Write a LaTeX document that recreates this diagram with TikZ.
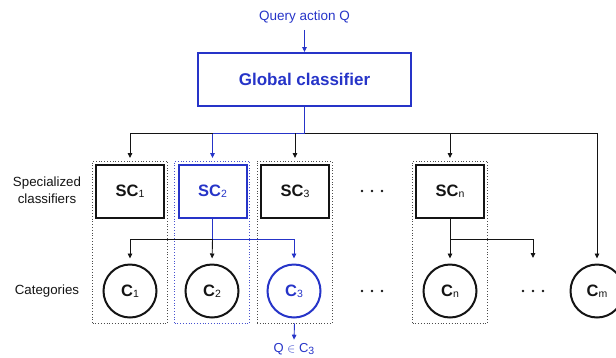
\documentclass[tikz,border=0pt]{standalone}
\usepackage{fontspec}
\setmainfont{Liberation Sans}
\usetikzlibrary{arrows.meta}
\definecolor{qblue}{RGB}{38,52,200}
\definecolor{ink}{RGB}{20,20,20}
% small upright index set slightly below the baseline
\newcommand\subidx[1]{{\fontsize{10.5}{10.5}\selectfont\mdseries\raisebox{-1.2pt}{#1}}}
\begin{document}
\begin{tikzpicture}[x=1pt,y=-1pt,
  classbox/.style={draw=ink, line width=2pt, minimum width=68pt, minimum height=53pt,
    inner sep=0pt, font=\fontsize{16.5}{16.5}\selectfont\bfseries, text=ink},
  catnode/.style={draw=ink, circle, line width=2pt, minimum size=53pt, inner sep=0pt,
    font=\fontsize{16.5}{16.5}\selectfont\bfseries, text=ink},
  frame/.style={draw=black!70, dotted, line width=0.8pt, minimum width=75pt,
    minimum height=162pt, inner sep=0pt},
  link/.style={line width=0.9pt, draw=ink, -{Triangle[length=5pt,width=4.5pt]}},
  plain/.style={line width=0.9pt, draw=ink},
  rowlabel/.style={font=\fontsize{13.3}{16.5}\selectfont, align=center, text=ink},
  dotc/.style={circle, fill=ink, minimum size=2.8pt, inner sep=0pt},
]
\useasboundingbox (0,0) rectangle (616,357);

% dotted frames pairing each specialized classifier with its category
\node[frame] (f1) at (130,242) {};
\node[frame, draw=qblue!85] (f2) at (212,242) {};
\node[frame] (f3) at (294.5,242) {};
\node[frame] (fn) at (450,242) {};

% query and global classifier
\node[text=qblue, font=\fontsize{13.5}{14}\selectfont] (q) at (304.5,17) {Query action Q};
\node[draw=qblue, line width=2pt, minimum width=213pt, minimum height=53pt,
  text=qblue, font=\fontsize{17}{17}\selectfont\bfseries] (g) at (304.5,79.5) {Global classifier};

% specialized classifiers
\node[classbox] (sc1) at (130,191.5) {SC\subidx{1}};
\node[classbox, draw=qblue, text=qblue] (sc2) at (212.5,191.5) {SC\subidx{2}};
\node[classbox] (sc3) at (295,191.5) {SC\subidx{3}};
\node[classbox] (scn) at (450,191.5) {SC\subidx{n}};

% categories
\node[catnode] (c1) at (130,291) {C\subidx{1}};
\node[catnode] (c2) at (212,291) {C\subidx{2}};
\node[catnode, draw=qblue, text=qblue] (c3) at (294,291) {C\subidx{3}};
\node[catnode] (cn) at (450,291) {C\subidx{n}};
\node[catnode] (cm) at (597,291) {C\subidx{m}};

% row labels
\node[rowlabel] (lsc) at (47,190) {Specialized\\classifiers};
\node[rowlabel] (lcat) at (47,291) {Categories};

% ellipses
\foreach \dx [count=\i] in {-10,0,10} {
  \node[dotc] (da\i) at (372+\dx,191) {};
  \node[dotc] (db\i) at (372+\dx,291) {};
  \node[dotc] (dc\i) at (533+\dx,291) {};
}

% result
\node[text=qblue, font=\fontsize{13}{13}\selectfont] (res) at (294,349.5) {Q $\in$ C\subidx{3}};

% bus levels
\coordinate (topbus) at (0,133);
\coordinate (lowbus) at (0,239);
\coordinate (more) at (533,258);

% global classifier to specialized classifiers
\draw[link, draw=qblue, shorten <=3pt] (q.south) -- (g.north);
\draw[plain, draw=qblue] (g.south) -- (g.south |- topbus);
\draw[link, draw=qblue, shorten >=6pt] (g.south |- topbus) -| (sc2.north);
\draw[link, shorten >=6pt] (sc2.north |- topbus) -| (sc1.north);
\draw[link, shorten >=6pt] (sc3.north |- topbus) -- (sc3.north);
\draw[link, shorten >=5pt] (g.south |- topbus) -| (cm.north);
\draw[link, shorten >=6pt] (scn.north |- topbus) -- (scn.north);

% specialized classifiers to categories
\draw[plain, draw=qblue] (sc2.south) -- (sc2.south |- lowbus);
\draw[link, draw=qblue, shorten >=5pt] (sc2.south |- lowbus) -| (c3.north);
\draw[link, shorten >=5pt] (sc2.south |- lowbus) -| (c1.north);
\draw[link, shorten >=5pt] (sc2.south |- lowbus) -- (c2.north);
\draw[plain] (scn.south) -- (scn.south |- lowbus);
\draw[link] (scn.south |- lowbus) -| (more);
\draw[link, shorten >=5pt] (scn.south |- lowbus) -- (cn.north);

% chosen category
\draw[link, draw=qblue, shorten >=0.5pt] (f3.south) -- (res.north);
\end{tikzpicture}
\end{document}
